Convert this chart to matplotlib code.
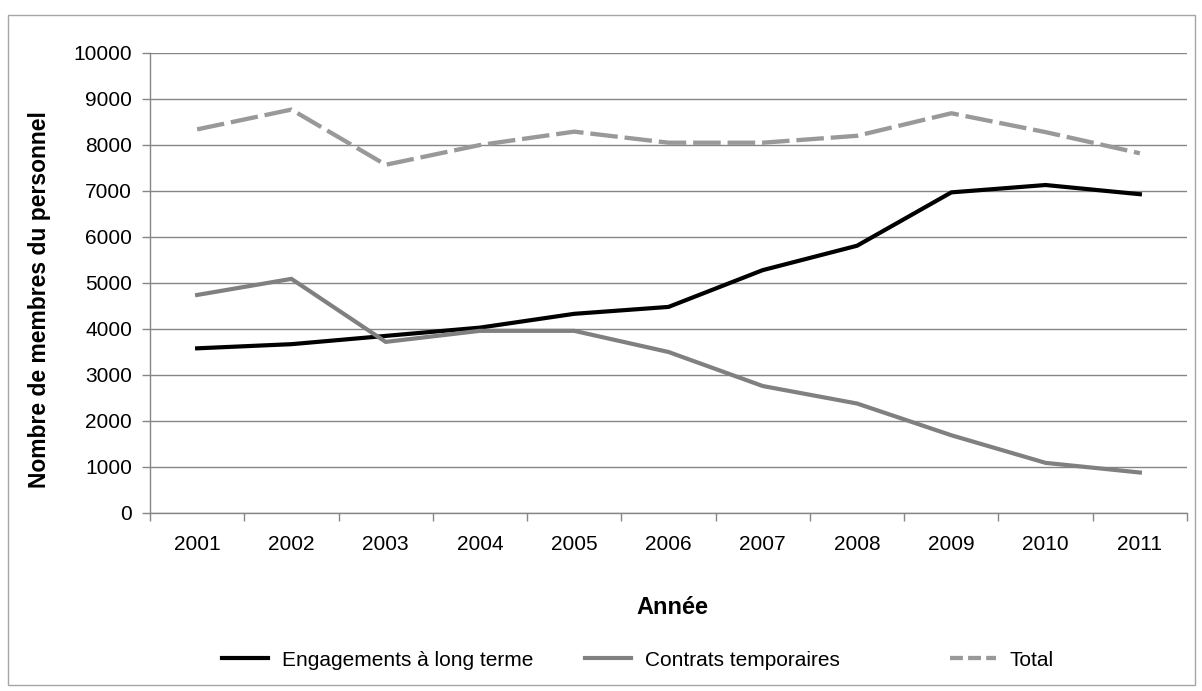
import matplotlib
matplotlib.use("Agg")
import matplotlib.pyplot as plt
from matplotlib.lines import Line2D
from matplotlib.patches import Rectangle

plt.rcParams['font.family'] = ['Liberation Sans', 'DejaVu Sans']

# data
years = ['2001', '2002', '2003', '2004', '2005', '2006', '2007', '2008', '2009', '2010', '2011']
long_term = [3580, 3670, 3850, 4030, 4330, 4480, 5280, 5810, 6970, 7130, 6930]
temporary = [4740, 5090, 3720, 3960, 3960, 3500, 2760, 2380, 1690, 1090, 880]
total = [8340, 8770, 7570, 8000, 8290, 8050, 8050, 8200, 8690, 8280, 7820]

W, H = 1202, 691
fig = plt.figure(figsize=(W / 100, H / 100), dpi=100)
ax = fig.add_axes([150 / W, 1 - 513 / H, (1187 - 150) / W, (513 - 53) / H])

grid_col = '#868686'
x = range(len(years))
l1, = ax.plot(x, long_term, color='black', lw=3.0, solid_joinstyle='miter', label='Engagements à long terme')
l2, = ax.plot(x, temporary, color='#808080', lw=3.0, solid_joinstyle='miter', label='Contrats temporaires')
ax.plot(x, total, color='#999999', lw=3.1, dashes=(6.4, 1.6))
# legend swatch of the dashed line uses a shorter dash, as in the original
l3 = Line2D([], [], color='#999999', lw=3.1, dashes=(3.0, 1.2), label='Total')

ax.set_xlim(-0.5, len(years) - 0.5)
ax.set_ylim(0, 10000)
ax.set_yticks(range(0, 10001, 1000))
ax.tick_params(axis='y', length=6, width=1, color=grid_col, labelsize=15, pad=7)
ax.yaxis.grid(True, color=grid_col, lw=1)
ax.set_axisbelow(True)

# ticks between categories, labels at the centre
ax.set_xticks([i - 0.5 for i in range(len(years) + 1)])
ax.set_xticklabels([])
ax.set_xticks(list(x), minor=True)
ax.set_xticklabels(years, minor=True)
ax.tick_params(axis='x', which='major', length=6, width=1, color=grid_col, direction='out')
ax.tick_params(axis='x', which='minor', length=0, labelsize=15, pad=16)

for s in ['top', 'right']:
    ax.spines[s].set_visible(False)
for s in ['left', 'bottom']:
    ax.spines[s].set_color(grid_col)
    ax.spines[s].set_linewidth(1)

ax.set_xlabel('Année', fontsize=17, fontweight='bold')
ax.xaxis.set_label_coords(0.504, -0.18)
ax.set_ylabel('Nombre de membres du personnel', fontsize=16.5, fontweight='bold')
ax.yaxis.set_label_coords(-0.095, 0.463)

# legend entries spaced like the original
for line, xl in zip([l1, l2, l3], [222, 585, 950]):
    fig.legend(handles=[line], loc='center left', bbox_to_anchor=(xl / W, 1 - 660 / H),
               frameon=False, fontsize=15, handlelength=2.2, handletextpad=0.67,
               borderpad=0, borderaxespad=0)

fig.patches.append(Rectangle((7.5 / W, 6 / H), (1195 - 7.5) / W, (685 - 15) / H,
                             transform=fig.transFigure, fill=False, ec='#a6a6a6', lw=1))

fig.savefig('out.png', dpi=100)
